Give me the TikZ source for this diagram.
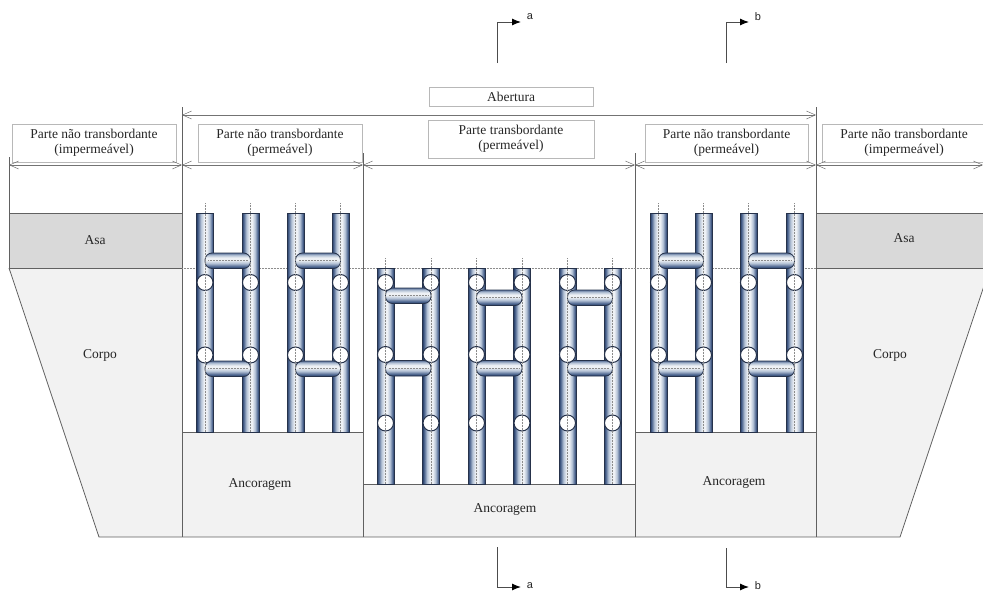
\documentclass[tikz,border=0pt]{standalone}
\usepackage{fontspec}
\setmainfont{Liberation Serif}
\newfontfamily\secfont{Liberation Sans}
\usetikzlibrary{arrows.meta}
\definecolor{navy}{HTML}{1F3864}
\definecolor{midb}{HTML}{5B7299}
\definecolor{lightb}{HTML}{B4C2D6}
\definecolor{pale}{HTML}{EEF1F5}
\definecolor{edgec}{HTML}{26324A}
\pgfdeclarehorizontalshading{pipeV}{100bp}{color(0bp)=(navy);color(25bp)=(navy);color(31bp)=(midb);color(38bp)=(lightb);color(47bp)=(pale);color(55bp)=(pale);color(63bp)=(lightb);color(70bp)=(midb);color(75bp)=(navy);color(100bp)=(navy)}
\pgfdeclareverticalshading{pipeH}{100bp}{color(0bp)=(navy);color(25bp)=(navy);color(33bp)=(midb);color(42bp)=(lightb);color(52bp)=(pale);color(60bp)=(pale);color(68bp)=(lightb);color(75bp)=(midb);color(100bp)=(midb)}
\tikzset{
  x=1pt,y=-1pt,
  txt/.style={font=\fontsize{13.5}{15.5}\selectfont,text=black!85,inner sep=0pt,align=center},
  labbox/.style={txt,draw=black!28,line width=.6pt,anchor=center},
  wall/.style={draw=black!62,line width=.8pt},
  dim/.style={draw=black!55,line width=.8pt,{Straight Barb[length=9pt,width=8pt,line width=.5pt]}-{Straight Barb[length=9pt,width=8pt,line width=.5pt]}},
  sec/.style={draw=black!70,line width=1pt,-{Latex[length=9pt,width=7pt,black]}},
  seclab/.style={font=\secfont\fontsize{11}{12}\selectfont,text=black!85,inner sep=0pt},
  vp/.style={shading=pipeV,draw=edgec,line width=.7pt},
  hp/.style={shading=pipeH,draw=edgec,line width=.8pt,rounded corners=7pt},
  joint/.style={fill=white,draw=edgec,line width=1pt},
  cl/.style={draw=black!45,line width=.5pt,densely dotted}
}
\newcommand{\pipepair}[4]{%
  \path[vp] (#1-8.5,#3) rectangle (#1+8.5,#4);
  \path[vp] (#2-8.5,#3) rectangle (#2+8.5,#4);
}
\newcommand{\crossbar}[3]{\path[hp] (#1,#3) rectangle (#2,#3+15.5);}
\newcommand{\jointmark}[2]{\path[joint] (#1,#2) circle (8);}
\begin{document}
\begin{tikzpicture}
\useasboundingbox (0,0) rectangle (983,597);
\clip (0,0) rectangle (983,597);
% bodies
\fill[black!15] (9,213) rectangle (182,268);
\fill[black!15] (816,213) rectangle (983,268);
\fill[black!5] (9,268) -- (182,268) -- (182,537) -- (99,537) -- cycle;
\fill[black!5] (816,268) -- (990,268) -- (900,537) -- (816,537) -- cycle;
\fill[black!5] (182,432) rectangle (363,537);
\fill[black!5] (363,484) rectangle (635,537);
\fill[black!5] (635,432) rectangle (816,537);
\draw[wall] (9,268) -- (99,537) -- (900,537) -- (990,268);
\draw[wall] (9,213) -- (182,213) (9,268) -- (182,268);
\draw[wall] (816,213) -- (983,213) (816,268) -- (983,268);
\draw[wall] (182,432) -- (363,432) (635,432) -- (816,432) (363,484) -- (635,484);
% walls
\draw[wall] (9,157) -- (9,268);
\draw[wall] (182,107) -- (182,537);
\draw[wall] (363,153) -- (363,537);
\draw[wall] (635,153) -- (635,537);
\draw[wall] (816,107) -- (816,537);
% crest line
\draw[cl] (182,268) -- (816,268);
% pipes
\foreach \xa/\xb in {205/250.5,295.5/340.5,658.5/703.5,748.5/794.5}{
  \pipepair{\xa}{\xb}{213.5}{432}
  \crossbar{\xa}{\xb}{253}
  \crossbar{\xa}{\xb}{361}
  \foreach \xc in {\xa,\xb}{
    \jointmark{\xc}{282.5}
    \jointmark{\xc}{355}
    \draw[cl] (\xc,203) -- (\xc,432);
  }
  \draw[cl] (\xa+3,260.7) -- (\xb-3,260.7) (\xa+3,368.7) -- (\xb-3,368.7);
}
\foreach \xa/\xb/\yu in {385.5/431/288,476.5/522/290,567.5/612.5/290}{
  \pipepair{\xa}{\xb}{268}{484}
  \crossbar{\xa}{\xb}{\yu}
  \crossbar{\xa}{\xb}{360.5}
  \foreach \xc in {\xa,\xb}{
    \jointmark{\xc}{282.5}
    \jointmark{\xc}{354.5}
    \jointmark{\xc}{423}
    \draw[cl] (\xc,258) -- (\xc,484);
  }
  \draw[cl] (\xa+3,\yu+7.7) -- (\xb-3,\yu+7.7) (\xa+3,368.2) -- (\xb-3,368.2);
}
% label boxes
\node[labbox,minimum width=164pt,minimum height=19pt] (abertura) at (511,96.5) {Abertura};
\node[labbox,minimum width=164pt,minimum height=38pt] (ntl) at (94,143) {Parte não transbordante\\(impermeável)};
\node[labbox,minimum width=164pt,minimum height=38pt] (npl) at (280,143) {Parte não transbordante\\(permeável)};
\node[labbox,minimum width=166pt,minimum height=38pt] (tm) at (511,139) {Parte transbordante\\(permeável)};
\node[labbox,minimum width=163pt,minimum height=38pt] (npr) at (726.5,143) {Parte não transbordante\\(permeável)};
\node[labbox,minimum width=164pt,minimum height=38pt] (ntr) at (904,143) {Parte não transbordante\\(impermeável)};
% dimension lines
\coordinate (d0) at (9,165); \coordinate (d1) at (182,165); \coordinate (d2) at (363,165);
\coordinate (d3) at (635,165); \coordinate (d4) at (816,165); \coordinate (d5) at (983,165);
\coordinate (t0) at (182,115); \coordinate (t1) at (816,115);
\draw[dim] (t0) -- (t1);
\draw[dim] (d0) -- (d1);
\draw[dim] (d1) -- (d2);
\draw[dim] (d2) -- (d3);
\draw[dim] (d3) -- (d4);
\draw[dim] (d4) -- (d5);
% body labels
\node[txt] (asal) at (95,240) {Asa};
\node[txt] (corpol) at (100,355) {Corpo};
\node[txt] (ancl) at (260,484) {Ancoragem};
\node[txt] (ancm) at (505,509) {Ancoragem};
\node[txt] (ancr) at (734,482) {Ancoragem};
\node[txt] (asar) at (904,238) {Asa};
\node[txt] (corpor) at (890,355) {Corpo};
% section marks
\coordinate (aT0) at (497,63); \coordinate (aT1) at (497,22); \coordinate (aT2) at (521,22);
\coordinate (bT0) at (726,63); \coordinate (bT1) at (726,22); \coordinate (bT2) at (749,22);
\coordinate (aB0) at (497,547); \coordinate (aB1) at (497,587); \coordinate (aB2) at (521,587);
\coordinate (bB0) at (726,548); \coordinate (bB1) at (726,587); \coordinate (bB2) at (749,587);
\draw[sec] (aT0) -- (aT1) -- (aT2);
\draw[sec] (bT0) -- (bT1) -- (bT2);
\draw[sec] (aB0) -- (aB1) -- (aB2);
\draw[sec] (bB0) -- (bB1) -- (bB2);
\node[seclab] (la1) at (530,17) {a};
\node[seclab] (lb1) at (758,17) {b};
\node[seclab] (la2) at (530,586) {a};
\node[seclab] (lb2) at (758,586) {b};
\end{tikzpicture}
\end{document}
